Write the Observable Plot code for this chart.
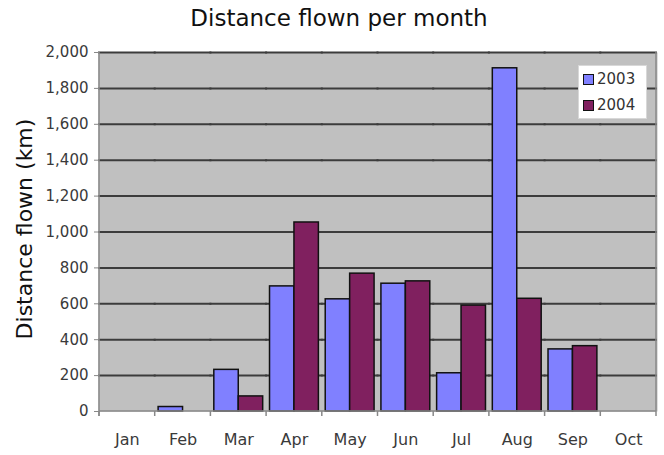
<!DOCTYPE html>
<html><head><meta charset="utf-8">
<script src="https://cdn.jsdelivr.net/npm/d3@7"></script>
<script src="https://cdn.jsdelivr.net/npm/@observablehq/plot@0.6"></script>
<style>
body{margin:0;background:#fff;font-family:"DejaVu Sans",sans-serif}
#wrap{position:relative;width:664px;height:455px;overflow:hidden}
#title{position:absolute;left:339px;top:5px;transform:translateX(-50%);white-space:nowrap;font-size:23px;color:#111}
#ylabel{position:absolute;left:24px;top:229px;transform:translate(-50%,-50%) rotate(-90deg);white-space:nowrap;font-size:22px;color:#111}
#legend{position:absolute;left:578px;top:65px;width:69px;height:54px;background:#fff;border:1px solid #d8d8d8;box-sizing:border-box;font-size:15px;color:#333}
#legend .item{position:absolute;left:4px;height:18px;line-height:18px;display:flex;align-items:center}
#legend .sw{width:9px;height:9px;border:1px solid #111;margin-right:3px}
</style></head><body>
<div id="wrap">
<div id="title">Distance flown per month</div>
<div id="ylabel">Distance flown (km)</div>
<div id="chart"></div>
<div id="legend"></div>
</div>
<script>
const months = ["Jan","Feb","Mar","Apr","May","Jun","Jul","Aug","Sep","Oct"];
const years = ["2003","2004"];
const values2003 = [0, 25, 232, 697, 625, 712, 213, 1912, 346, 0];
const values2004 = [0, 0, 84, 1053, 768, 725, 590, 628, 364, 0];
const yTicks = [0, 200, 400, 600, 800, 1000, 1200, 1400, 1600, 1800, 2000];
const colors = ["#8080ff", "#80205f"];

const data = [];
months.forEach((m, i) => {
  data.push({month: m, year: years[0], value: values2003[i]});
  data.push({month: m, year: years[1], value: values2004[i]});
});

const plot = Plot.plot({
  width: 664, height: 455,
  marginLeft: 99, marginRight: 8, marginTop: 52, marginBottom: 44,
  style: {fontFamily: "DejaVu Sans, sans-serif", fontSize: "14px", color: "#3a3a3a", background: "transparent", overflow: "visible"},
  fx: {domain: months, paddingInner: 0, paddingOuter: 0, round: false, label: null},
  x: {domain: years, paddingInner: 0, paddingOuter: 0.14, round: false, axis: null},
  y: {domain: [0, 2000], label: null},
  color: {domain: years, range: colors},
  marks: [
    Plot.frame({fill: "#c0c0c0", stroke: null, insetLeft: -1, insetRight: -1}),
    Plot.ruleY(yTicks.filter(d => d > 0), {stroke: "#3c3c3c", strokeWidth: 2, insetLeft: -1, insetRight: -1}),
    Plot.barY(data, {fx: "month", x: "year", y: d => d.value > 0 ? d.value : NaN, fill: "year", stroke: "#111", strokeWidth: 1.5}),
    Plot.axisY({ticks: yTicks, tickFormat: d3.format(","), tickSize: 5, tickPadding: 6, label: null, fontSize: 15, stroke: "#888"}),
    Plot.axisFx({anchor: "bottom", tickSize: 0, tickPadding: 22, fontSize: 16, label: null})
  ]
});
document.getElementById("chart").appendChild(plot);

// outer border and boundary ticks from the library's scales
const fx = plot.scale("fx"), y = plot.scale("y");
const bw = fx.bandwidth;
const left = fx.apply(months[0]), right = fx.apply(months[months.length - 1]) + bw;
const y0 = y.apply(0), yTop = y.apply(2000);
const svg = d3.select(plot);
const g = svg.append("g").attr("stroke", "#888").attr("stroke-width", 1.5).attr("fill", "none");
g.append("line").attr("x1", left).attr("x2", left).attr("y1", yTop).attr("y2", y0 + 5);
g.append("line").attr("x1", right).attr("x2", right).attr("y1", yTop).attr("y2", y0 + 5);
g.append("line").attr("x1", left).attr("x2", right).attr("y1", y0).attr("y2", y0);
months.forEach(m => {
  const xb = fx.apply(m);
  g.append("line").attr("x1", xb).attr("x2", xb).attr("y1", y0).attr("y2", y0 + 5);
});

// legend
const leg = document.getElementById("legend");
years.forEach((yr, i) => {
  const it = document.createElement("div");
  it.className = "item";
  it.style.top = (4 + i * 26) + "px";
  it.innerHTML = `<span class="sw" style="background:${colors[i]}"></span>${yr}`;
  leg.appendChild(it);
});
</script>
</body></html>
